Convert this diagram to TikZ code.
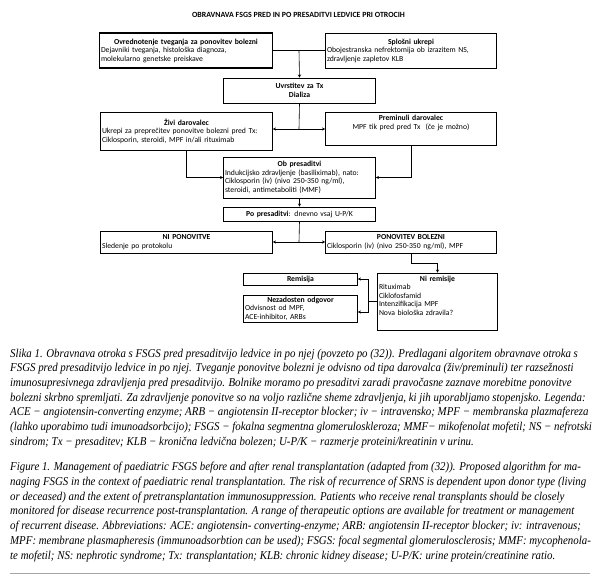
\documentclass[tikz,border=0pt]{standalone}
\usepackage{fontspec}
\setmainfont{Liberation Serif}
\newfontfamily\diagfont{Carlito}
\newfontfamily\capfont[FakeStretch=0.905]{Liberation Serif}
\usetikzlibrary{arrows.meta}
\tikzset{
  box/.style={draw, line width=0.6pt, inner sep=1.5pt, align=left,
    font=\diagfont\fontsize{7.7}{8.5}\selectfont},
  arr/.style={line width=0.6pt, -{Stealth[length=3.2pt,width=3.2pt]}},
  ln/.style={line width=0.6pt},
  capline/.style={anchor=base west, inner sep=0pt, font=\capfont\itshape\fontsize{12}{14.7}\selectfont},
}
\newcommand{\ctr}[1]{\hfill\textbf{#1}\hfill\null}
\begin{document}
\begin{tikzpicture}[x=1pt,y=-1pt]
\useasboundingbox (0,0) rectangle (600,581);
\fill[white] (0,0) rectangle (600,581);

\node[font=\diagfont\bfseries\fontsize{7.9}{8.5}\selectfont] (title) at (298.5,15) {OBRAVNAVA FSGS PRED IN PO PRESADITVI LEDVICE PRI OTROCIH};

\node[box, line width=1.1pt, text width=170pt, minimum height=35pt] (A) at (186,50.5)
 {\ctr{Ovrednotenje tveganja za ponovitev bolezni}\\ Dejavniki tveganja, histološka diagnoza,\\ molekularno genetske preiskave};
\node[box, text width=168pt, minimum height=35pt] (B) at (411,50.5)
 {\ctr{Splošni ukrepi}\\ Obojestranska nefrektomija ob izrazitem NS,\\ zdravljenje zapletov KLB};
\node[box, text width=149pt, minimum height=25pt, align=center] (C) at (299.5,90.5)
 {\textbf{Uvrstitev za Tx}\\ \textbf{Dializa}};
\node[box, text width=169pt, minimum height=38pt] (D) at (186.5,131)
 {\ctr{Živi darovalec}\\ Ukrepi za preprečitev ponovitve bolezni pred Tx:\\ Ciklosporin, steroidi, MPF in/ali rituximab};
\node[box, text width=168pt, minimum height=33pt, align=center] (E) at (411,128.5)
 {\textbf{Preminuli darovalec}\\ MPF tik pred pred Tx \ (če je možno)\\[4pt]\null};
\node[box, text width=149pt, minimum height=41pt] (F) at (299.5,177.5)
 {\ctr{Ob presaditvi}\\ Indukcijsko zdravljenje (basiliximab), nato:\\ Ciklosporin (iv) (nivo 250-350 ng/ml),\\ steroidi, antimetaboliti (MMF)};
\node[box, text width=149pt, minimum height=14pt, align=center] (G) at (299.5,214)
 {\textbf{Po presaditvi}: dnevno vsaj U-P/K};
\node[box, text width=169pt, minimum height=22pt] (H) at (186.5,242)
 {\ctr{NI PONOVITVE}\\ Sledenje po protokolu};
\node[box, text width=168pt, minimum height=22pt] (I) at (411,242)
 {\ctr{PONOVITEV BOLEZNI}\\ Ciklosporin (iv) (nivo 250-350 ng/ml), MPF};
\node[box, text width=117pt, minimum height=57pt] (J) at (437.5,301.5)
 {\ctr{Ni remisije}\\ Rituximab\\ Ciklofosfamid\\ Intenzifikacija MPF\\ Nova biološka zdravila?\\[3pt]\null};
\node[box, text width=111pt, minimum height=12pt, align=center] (K) at (300.5,279)
 {\textbf{Remisija}};
\node[box, text width=111pt, minimum height=27pt] (L) at (300.5,308.5)
 {\ctr{Nezadosten odgovor}\\ Odvisnost od MPF,\\ ACE-inhibitor, ARBs};

\coordinate (m1) at (299,50.5);
\coordinate (m2) at (299,129);
\coordinate (m3) at (299,242);
\coordinate (m4) at (411,263);
\coordinate (m5) at (368,301.5);
\coordinate (k1) at (368,279);
\coordinate (l1) at (368,312);

\draw[ln] (A.east) -- (B.west);
\draw[arr] (m1) -- (C.north);
\draw[ln] (C.south) -- (m2);
\draw[arr] (m2) -- (m2 -| D.east);
\draw[arr] (m2) -- (m2 -| E.west);
\draw[arr] (D.south) -- (D.south |- F.west) -- (F.west);
\draw[arr] (E.south) -- (E.south |- F.east) -- (F.east);
\draw[arr] (F.south) -- (G.north);
\draw[ln] (G.south) -- (m3);
\draw[arr] (m3) -- (m3 -| H.east);
\draw[arr] (m3) -- (m3 -| I.west);
\draw[arr] (I.south) -- (m4) -- (m4 -| J.north) -- (J.north);
\draw[ln] (J.west) -- (m5);
\draw[arr] (m5) -- (k1) -- (k1 -| K.east);
\draw[arr] (m5) -- (l1) -- (l1 -| L.east);

\node[capline] (s1) at (10,357) {Slika 1. Obravnava otroka s FSGS pred presaditvijo ledvice in po njej (povzeto po (32)). Predlagani algoritem obravnave otroka s};
\node[capline] (s2) at (10,371.7) {FSGS pred presaditvijo ledvice in po njej. Tveganje ponovitve bolezni je odvisno od tipa darovalca (živ/preminuli) ter razsežnosti};
\node[capline] (s3) at (10,386.4) {imunosupresivnega zdravljenja pred presaditvijo. Bolnike moramo po presaditvi zaradi pravočasne zaznave morebitne ponovitve};
\node[capline] (s4) at (10,401.1) {bolezni skrbno spremljati. Za zdravljenje ponovitve so na voljo različne sheme zdravljenja, ki jih uporabljamo stopenjsko. Legenda:};
\node[capline] (s5) at (10,415.8) {ACE − angiotensin-converting enzyme; ARB − angiotensin II-receptor blocker; iv − intravensko; MPF − membranska plazmafereza};
\node[capline] (s6) at (10,430.5) {(lahko uporabimo tudi imunoadsorbcijo); FSGS − fokalna segmentna glomeruloskleroza; MMF− mikofenolat mofetil; NS − nefrotski};
\node[capline] (s7) at (10,445.2) {sindrom; Tx − presaditev; KLB − kronična ledvična bolezen; U-P/K − razmerje proteini/kreatinin v urinu.};

\node[capline] (e1) at (10,470.8) {Figure 1. Management of paediatric FSGS before and after renal transplantation (adapted from (32)). Proposed algorithm for ma-};
\node[capline] (e2) at (10,485.5) {naging FSGS in the context of paediatric renal transplantation. The risk of recurrence of SRNS is dependent upon donor type (living};
\node[capline] (e3) at (10,500.2) {or deceased) and the extent of pretransplantation immunosuppression. Patients who receive renal transplants should be closely};
\node[capline] (e4) at (10,514.9) {monitored for disease recurrence post-transplantation. A range of therapeutic options are available for treatment or management};
\node[capline] (e5) at (10,529.6) {of recurrent disease. Abbreviations: ACE: angiotensin- converting-enzyme; ARB: angiotensin II-receptor blocker; iv: intravenous;};
\node[capline] (e6) at (10,544.3) {MPF: membrane plasmapheresis (immunoadsorbtion can be used); FSGS: focal segmental glomerulosclerosis; MMF: mycophenola-};
\node[capline] (e7) at (10,559) {te mofetil; NS: nephrotic syndrome; Tx: transplantation; KLB: chronic kidney disease; U-P/K: urine protein/creatinine ratio.};

\coordinate (r1) at (10,573);
\coordinate (r2) at (590,573);
\draw[line width=1pt, gray!70] (r1) -- (r2);
\end{tikzpicture}
\end{document}
